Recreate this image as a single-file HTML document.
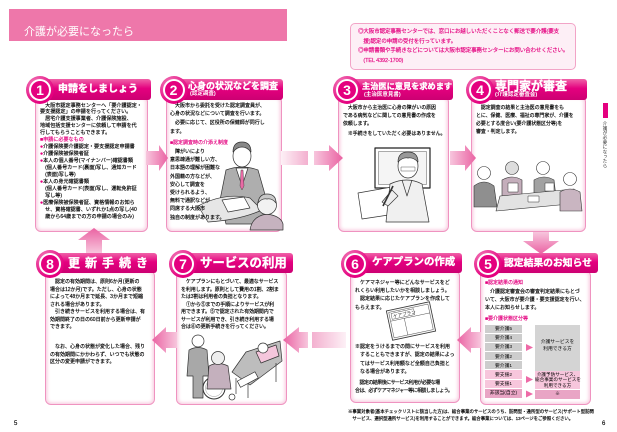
<!DOCTYPE html>
<html><head><meta charset="utf-8">
<style>
*{margin:0;padding:0;box-sizing:border-box}
html,body{width:617px;height:432px;overflow:hidden;background:#fff}
body{position:relative;font-family:"Liberation Sans","Noto Sans CJK JP",sans-serif;color:#231815}
.tb{position:absolute;white-space:nowrap;font-size:5px;line-height:7.5px;color:#000;-webkit-text-stroke:0.15px #000;z-index:4}
.box{position:absolute;background:#fff;border:1.2px solid #ef93c0;border-radius:6px;box-shadow:inset 0 0 3px 1.5px #f9cfe2;z-index:1}
.bar{position:absolute;background:linear-gradient(#f062a8,#e4007f 45%,#cc0072);border-radius:0 3px 3px 0;z-index:2}
.cir{position:absolute;width:28px;height:28px;border-radius:50%;background:radial-gradient(circle at 35% 30%,#f383bb,#e4007f 70%);z-index:2}
.cir::before{content:"";position:absolute;left:3px;top:3px;width:22px;height:22px;border-radius:50%;background:#fff}
.cir span{position:absolute;left:5px;top:5px;width:18px;height:18px;border-radius:50%;background:#e4007f;color:#fff;font-weight:bold;font-size:14px;line-height:18px;text-align:center;font-family:"Liberation Sans",sans-serif}
.ht{position:absolute;color:#fff;font-weight:bold;white-space:nowrap;font-family:"Liberation Sans","Noto Sans CJK JP",sans-serif;-webkit-text-stroke:0.35px #fff;z-index:4}
.pk{color:#e4007f;-webkit-text-stroke-color:#e4007f}
.cell{position:absolute;font-size:4.8px;line-height:8.3px;text-align:center;white-space:nowrap;color:#000;z-index:4}
</style></head><body>

<!-- title bar -->
<div style="position:absolute;left:9px;top:9px;width:278px;height:32px;background:#ee77aa"></div>
<div class="ht" style="left:24px;top:27px;font-size:11px;line-height:11px;font-weight:normal;-webkit-text-stroke:0">介護が必要になったら</div>

<!-- info box -->
<div style="position:absolute;left:350px;top:23px;width:226px;height:47px;border:1px solid #f2a4c7;background:#fdeff6;border-radius:5px"></div>
<div class="tb pk" style="left:358px;top:28.2px;font-size:5.5px;line-height:9.6px;letter-spacing:-0.1px">◎大阪市認定事務センターでは、窓口にお越しいただくことなく郵送で要介護(要支<br>　援)認定の申請の受付を行っています。<br>◎申請書類や手続きなどについては大阪市認定事務センターにお問い合わせください。<br>　(TEL 4392-1700)</div>

<!-- side tab -->
<div style="position:absolute;left:603px;top:103px;width:5px;height:15px;background:#e4007f"></div>
<div style="position:absolute;left:602px;top:121px;writing-mode:vertical-rl;font-size:4.7px;line-height:6px;color:#333;white-space:nowrap">介護が必要になったら</div>

<!-- body boxes row 1 -->
<div class="box" style="left:35px;top:96px;width:113px;height:136px"></div>
<div class="box" style="left:166px;top:96px;width:116px;height:136px"></div>
<div class="box" style="left:338px;top:96px;width:111px;height:136px"></div>
<div class="box" style="left:471px;top:96px;width:115px;height:136px"></div>
<!-- body boxes row 2 -->
<div class="box" style="left:45px;top:270px;width:110px;height:135px"></div>
<div class="box" style="left:176px;top:270px;width:111px;height:135px"></div>
<div class="box" style="left:350px;top:270px;width:110px;height:133px"></div>
<div class="box" style="left:480px;top:270px;width:111px;height:135px"></div>

<!-- header bars row 1 -->
<div class="bar" style="left:40px;top:79px;width:111px;height:21px"></div>
<div class="bar" style="left:173px;top:79px;width:110px;height:21px"></div>
<div class="bar" style="left:347px;top:79px;width:106px;height:21px"></div>
<div class="bar" style="left:480px;top:79px;width:107px;height:21px"></div>
<!-- header bars row 2 -->
<div class="bar" style="left:50px;top:253px;width:107px;height:20px"></div>
<div class="bar" style="left:183px;top:253px;width:110px;height:20px"></div>
<div class="bar" style="left:355px;top:253px;width:107px;height:20px"></div>
<div class="bar" style="left:488px;top:253px;width:110px;height:20px"></div>

<!-- circles -->
<div class="cir" style="left:26px;top:76px"><span>1</span></div>
<div class="cir" style="left:159.5px;top:76px"><span>2</span></div>
<div class="cir" style="left:333px;top:76px"><span>3</span></div>
<div class="cir" style="left:466px;top:76px"><span>4</span></div>
<div class="cir" style="left:36px;top:249.5px"><span>8</span></div>
<div class="cir" style="left:169px;top:249.5px"><span>7</span></div>
<div class="cir" style="left:341px;top:249.5px"><span>6</span></div>
<div class="cir" style="left:474px;top:249.5px"><span>5</span></div>

<!-- header titles -->
<div class="ht" style="left:58px;top:85px;font-size:10px;line-height:10px">申請をしましょう</div>
<div class="ht" style="left:188px;top:81.5px;font-size:9px;line-height:9px">心身の状況などを調査</div>
<div class="ht" style="left:190px;top:92.2px;font-size:5.5px;line-height:5.5px;-webkit-text-stroke:0">(認定調査)</div>
<div class="ht" style="left:362px;top:83px;font-size:8.2px;line-height:8.2px">主治医に意見を求めます</div>
<div class="ht" style="left:364px;top:93.2px;font-size:5.5px;line-height:5.5px;-webkit-text-stroke:0">(主治医意見書)</div>
<div class="ht" style="left:495px;top:80px;font-size:12px;line-height:12px">専門家が審査</div>
<div class="ht" style="left:495px;top:93.2px;font-size:5.5px;line-height:5.5px;-webkit-text-stroke:0">(介護認定審査会)</div>

<div class="ht" style="left:68px;top:257px;font-size:12px;line-height:12px;letter-spacing:5px">更新手続き</div>
<div class="ht" style="left:200px;top:257px;font-size:12.4px;line-height:12.4px">サービスの利用</div>
<div class="ht" style="left:372px;top:258px;font-size:10.4px;line-height:10.4px">ケアプランの作成</div>
<div class="ht" style="left:504px;top:258.5px;font-size:9.8px;line-height:9.8px">認定結果のお知らせ</div>

<!-- SVG: arrows & illustrations -->
<svg width="617" height="432" style="position:absolute;left:0;top:0;z-index:3" xmlns="http://www.w3.org/2000/svg">
<defs>
<linearGradient id="gr" x1="0" x2="1" y1="0" y2="0"><stop offset="0" stop-color="#f7c6dd"/><stop offset="1" stop-color="#ea62a2"/></linearGradient>
<linearGradient id="gl" x1="1" x2="0" y1="0" y2="0"><stop offset="0" stop-color="#f7c6dd"/><stop offset="1" stop-color="#ea62a2"/></linearGradient>
<linearGradient id="gd" x1="0" x2="0" y1="0" y2="1"><stop offset="0" stop-color="#f7c6dd"/><stop offset="1" stop-color="#ea62a2"/></linearGradient>
<linearGradient id="gu" x1="0" x2="0" y1="1" y2="0"><stop offset="0" stop-color="#f7c6dd"/><stop offset="1" stop-color="#ea62a2"/></linearGradient>
<linearGradient id="fr" x1="0" x2="1" y1="0" y2="0"><stop offset="0" stop-color="#fdf0f6"/><stop offset="1" stop-color="#f3b0cf"/></linearGradient>
<linearGradient id="fl" x1="1" x2="0" y1="0" y2="0"><stop offset="0" stop-color="#fdf0f6"/><stop offset="1" stop-color="#f3b0cf"/></linearGradient>
</defs>
<!-- row1 arrows -->
<polygon points="146,151 159,151 159,145 168,158 159,171 159,165 146,165" fill="url(#gr)"/>
<rect x="281" y="151" width="27" height="14" fill="url(#fr)"/>
<polygon points="314,151 329,151 329,145 343,158 329,171 329,165 314,165" fill="url(#gr)"/>
<polygon points="450,151 465,151 465,145 476,158 465,171 465,165 450,165" fill="url(#gr)"/>
<!-- down arrow -->
<polygon points="533,232 549,232 549,241 559,241 541,254 523,241 533,241" fill="url(#gd)"/>
<!-- row2 arrows -->
<polygon points="481,332 471,332 471,327 457,340 471,353 471,348 481,348" fill="url(#gl)"/>
<rect x="312" y="332" width="34" height="16" fill="url(#fl)"/>
<polygon points="308,332 299,332 299,327 283,340 299,353 299,348 308,348" fill="url(#gl)"/>
<polygon points="177,332 166,332 166,327 152,340 166,353 166,348 177,348" fill="url(#gl)"/>
<!-- up arrow -->
<polygon points="86,253 102,253 102,240 110,240 94,228 78,240 86,240" fill="url(#gu)"/>

<!-- box2 illustration -->
<g stroke="#333" stroke-width="0.7" stroke-linejoin="round">
<path d="M226 170 Q242 164 258 170 L266 198 L264 224 L226 224 L220 200 Z" fill="#aeaeae"/>
<path d="M236 168 L242 186 L248 168 Z" fill="#fff"/>
<path d="M241 170 L243 170 L244 186 L242 190 L240 186 Z" fill="#e96aa5" stroke-width="0.4"/>
<ellipse cx="242" cy="156" rx="9" ry="11" fill="#fff"/>
<path d="M233 152 Q233 142 242 142 Q251 142 251 152 Q247 147 242 147 Q237 147 233 152 Z" fill="#888"/>
<path d="M198 206 Q225 192 250 198 L262 210 Q240 220 208 222 Z" fill="#e6e6e6"/>
<path d="M222 200 L244 197 L250 208 L228 212 Z" fill="#fff"/>
<path d="M250 230 Q252 216 267 214 Q281 216 283 224 L283 230 Z" fill="#c6b2bf"/>
<circle cx="267" cy="205" r="9.5" fill="#f2f2f2"/>
<path d="M258 203 Q259 194 267 194 Q276 194 276 203 Q272 198 267 199 Q262 198 258 203Z" fill="#c8c8c8"/>
</g>

<!-- box3 illustration -->
<g stroke="#333" stroke-width="0.7" stroke-linejoin="round">
<rect x="375" y="148" width="55" height="40" fill="#fff" stroke="#222" stroke-width="1.2"/>
<rect x="378.5" y="151.5" width="48" height="33" fill="#f5f5f5" stroke-width="0.4"/>
<path d="M358 193 L392 187 L402 213 L362 219 Z" fill="#fff"/>
<path d="M390 184 Q407 176 422 184 L429 222 L386 222 Z" fill="#f0f0f0"/>
<path d="M402 180 L407 196 L412 180" fill="none"/>
<ellipse cx="408" cy="166" rx="10" ry="12" fill="#fff"/>
<path d="M398 162 Q398 152 408 152 Q418 152 418 162 Q413 157 408 158 Q403 157 398 162Z" fill="#999"/>
<rect x="401" y="167" width="14" height="4" fill="#fff" stroke-width="0.4"/>
<path d="M392 190 L382 202 L388 206 L398 196 Z" fill="#eee"/>
<line x1="383" y1="206" x2="393" y2="186" stroke-width="1.6"/>
</g>

<!-- box4 illustration -->
<g stroke="#333" stroke-width="0.6" stroke-linejoin="round">
<path d="M474 186 Q484 178 494 186 L497 207 L474 207 Z" fill="#8f8f8f"/>
<circle cx="484" cy="173" r="6.5" fill="#fff"/>
<path d="M502 180 Q512 174 522 180 L522 196 L502 196 Z" fill="#c4aebb"/>
<circle cx="512" cy="168" r="6.5" fill="#ddd"/>
<path d="M534 180 Q544 174 554 180 L556 197 L534 197 Z" fill="#a2a2a2"/>
<circle cx="543" cy="168" r="6.5" fill="#fff"/>
<path d="M500 196 L574 189 L580 203 L496 211 Z" fill="#e2e2e2"/>
<path d="M560 192 Q570 186 580 192 L582 211 L560 211 Z" fill="#c9b5c1"/>
<circle cx="570" cy="179" r="6.5" fill="#fff"/>
<rect x="508" y="183" width="10" height="9" fill="#fff" stroke-width="0.5"/>
<rect x="528" y="196" width="11" height="6" fill="#fff" stroke-width="0.5"/>
<rect x="545" y="183" width="9" height="8" fill="#fff" stroke-width="0.5"/>
</g>

<!-- box6 care plan paper -->
<g transform="rotate(-12 411 321)" stroke="#333">
<rect x="389" y="306" width="44" height="30" fill="#f4f4f4" stroke-width="0.8"/>
<rect x="391" y="308" width="40" height="26" fill="#fff" stroke-width="0.4"/>
<rect x="393" y="309.5" width="23" height="6" fill="#fff" stroke-width="0.4"/>
<line x1="391" y1="317" x2="431" y2="317" stroke-width="0.4"/>
<line x1="405" y1="317" x2="405" y2="334" stroke-width="0.4"/>
<text x="394.5" y="314.5" font-size="4.6" stroke="none" fill="#333" font-family="Noto Sans CJK JP, sans-serif">ケアプラン</text>
</g>

<!-- box7 illustration -->
<g stroke="#333" stroke-width="0.7" stroke-linejoin="round">
<path d="M232 372 L246 352 L280 341 L282 361 L250 385 Z" fill="#bdbdbd"/>
<path d="M236 378 L236 394 M248 384 L248 398 M276 363 L276 382" fill="none"/>
<path d="M256 352 L276 345 L279 356 L261 363 Z" fill="#f4c6dc"/>
<circle cx="263" cy="348" r="5" fill="#fff"/>
<rect x="238" y="376" width="20" height="7" fill="#fff" transform="rotate(-28 248 380)"/>
<circle cx="198" cy="341" r="6" fill="#fff"/>
<path d="M189 350 Q198 345 207 350 L209 376 L203 376 L203 398 L193 398 L193 376 L187 376 Z" fill="#a8a8a8"/>
<circle cx="214" cy="388" r="11" fill="none" stroke-width="1"/>
<circle cx="214" cy="388" r="8.5" fill="none" stroke="#999" stroke-width="0.5"/>
<path d="M209 366 Q218 361 228 366 L231 389 L207 389 Z" fill="#c4b0bd"/>
<circle cx="218" cy="358" r="6.5" fill="#eee"/>
<circle cx="232" cy="397" r="3" fill="none"/>
</g>

<!-- table triangles -->
<polygon points="526,344 533,347.5 526,351" fill="#ee6aa7"/>
<polygon points="526,376 533,379.5 526,383" fill="#ee6aa7"/>
<polygon points="526,390.5 533,394 526,397.5" fill="#ee6aa7"/>
</svg>

<!-- box1 text -->
<div class="tb" style="left:40px;top:102.5px;font-size:5.1px;line-height:6.95px">　大阪市認定事務センターへ「要介護認定・<br>要支援認定」の申請を行ってください。<br>　居宅介護支援事業者、介護保険施設、<br>地域包括支援センターに依頼して申請を代<br>行してもらうこともできます。<br><span class="pk">■申請に必要なもの</span><br><span class="pk">●</span>介護保険要介護認定・要支援認定申請書<br><span class="pk">●</span>介護保険被保険者証<br><span class="pk">●</span>本人の個人番号(マイナンバー)確認書類<br>　(個人番号カード(裏面)写し、通知カード<br>　(表面)写し等)<br><span class="pk">●</span>本人の身元確認書類<br>　(個人番号カード(表面)写し、運転免許証<br>　写し等)<br><span class="pk">●</span>医療保険被保険者証、資格情報のお知ら<br>　せ、資格確認書、いずれか1点の写し(40<br>　歳から64歳までの方の申請の場合のみ)</div>

<!-- box2 text -->
<div class="tb" style="left:170px;top:101.8px;line-height:8.6px">　大阪市から委託を受けた認定調査員が、<br>心身の状況などについて調査を行います。<br>　必要に応じて、区役所の保健師が同行し<br>ます。</div>
<div class="tb pk" style="left:170px;top:139px;line-height:8px">■認定調査時の介添え制度</div>
<div class="tb" style="left:170px;top:147.9px;line-height:8.2px">　障がいにより<br>意思疎通が難しい方、<br>日本語の理解が困難な<br>外国籍の方などが、<br>安心して調査を<br>受けられるよう、<br>無料で通訳などが<br>同席する大阪市<br>独自の制度があります。</div>

<!-- box3 text -->
<div class="tb" style="left:343px;top:105px;font-size:4.9px;line-height:8px">　大阪市から主治医に心身の障がいの原因<br>である病気などに関しての意見書の作成を<br>依頼します。</div>
<div class="tb" style="left:343px;top:131px;font-size:4.9px;line-height:8px">　※手続きをしていただく必要はありません。</div>

<!-- box4 text -->
<div class="tb" style="left:476px;top:105px;font-size:4.9px;line-height:8px">　認定調査の結果と主治医の意見書をも<br>とに、保健、医療、福祉の専門家が、介護を<br>必要とする度合い(要介護状態区分等)を<br>審査・判定します。</div>

<!-- box8 text -->
<div class="tb" style="left:50px;top:279.25px">　認定の有効期間は、原則6か月(更新の<br>場合は12か月)です。ただし、心身の状態<br>によって48か月まで延長、3か月まで短縮<br>される場合があります。<br>　引き続きサービスを利用する場合は、有<br>効期間終了の日の60日前から更新申請が<br>できます。</div>
<div class="tb" style="left:50px;top:344.25px">　なお、心身の状態が変化した場合、残り<br>の有効期間にかかわらず、いつでも状態の<br>区分の変更申請ができます。</div>

<!-- box7 text -->
<div class="tb" style="left:181px;top:279.25px;letter-spacing:-0.1px">　ケアプランにもとづいて、最適なサービス<br>を利用します。原則として費用の1割、2割ま<br>たは3割は利用者の負担となります。<br>　①から⑤までの手順によりサービスが利<br>用できます。⑤で認定された有効期間内で<br>サービスが利用でき、引き続き利用する場<br>合は⑧の更新手続きを行ってください。</div>

<!-- box6 text -->
<div class="tb" style="left:355px;top:278.9px;line-height:8.3px">　ケアマネジャー等にどんなサービスをど<br>れくらい利用したいかを相談しましょう。<br>　認定結果に応じたケアプランを作成して<br>もらえます。</div>
<div class="tb" style="left:355px;top:342.7px;line-height:8.5px">※認定をうけるまでの間にサービスを利用<br>　することもできますが、認定の結果によっ<br>　てはサービス利用額など全額自己負担と<br>　なる場合があります。</div>
<div class="tb" style="left:355px;top:379px;line-height:8px;letter-spacing:-0.55px">　認定の結果後にサービス利用が必要な場<br>合は、必ずケアマネジャー等に相談しましょう。</div>

<!-- box5 text -->
<div class="tb pk" style="left:485px;top:279px;line-height:8px">■認定結果の通知</div>
<div class="tb" style="left:485px;top:287.9px;line-height:8.1px">　介護認定審査会の審査判定結果にもとづ<br>いて、大阪市が要介護・要支援認定を行い、<br>本人にお知らせします。</div>
<div class="tb pk" style="left:485px;top:315px;line-height:8px">■要介護状態区分等</div>

<!-- table -->
<div style="position:absolute;left:485px;top:324.5px;width:37px;z-index:2">
<div style="height:9.2px;background:#cdcdcd;border-bottom:0.8px solid #fff"></div>
<div style="height:9.2px;background:#cdcdcd;border-bottom:0.8px solid #fff"></div>
<div style="height:9.2px;background:#cdcdcd;border-bottom:0.8px solid #fff"></div>
<div style="height:9.2px;background:#cdcdcd;border-bottom:0.8px solid #fff"></div>
<div style="height:9.2px;background:#cdcdcd;border-bottom:0.8px solid #fff"></div>
<div style="height:9.2px;background:#f7c6dc;border-bottom:0.8px solid #fff"></div>
<div style="height:9.2px;background:#f7c6dc;border-bottom:0.8px solid #fff"></div>
<div style="height:9.2px;background:#e9a5c5"></div>
</div>
<div class="cell" style="left:485px;top:325px;width:37px;line-height:9.2px">要介護5<br>要介護4<br>要介護3<br>要介護2<br>要介護1<br>要支援2<br>要支援1<br>非該当(自立)</div>
<div style="position:absolute;left:535px;top:324.5px;width:45px;height:46px;background:#d4d4d4;z-index:2"></div>
<div style="position:absolute;left:535px;top:371px;width:45px;height:18px;background:#f7c6dc;z-index:2"></div>
<div style="position:absolute;left:535px;top:389.5px;width:45px;height:9px;background:#e9a5c5;z-index:2"></div>
<div class="cell" style="left:535px;top:339px;width:45px;line-height:7px">介護サービスを<br>利用できる方</div>
<div class="cell" style="left:535px;top:371.5px;width:45px;font-size:4.6px;line-height:5.8px">介護予防サービス、<br>総合事業のサービスを<br>利用できる方</div>
<div class="cell" style="left:535px;top:389.5px;width:45px;line-height:9px">※</div>

<!-- footnote -->
<div class="tb" style="left:348px;top:407.5px;font-size:4.4px;line-height:7px">※事業対象者(基本チェックリストに該当した方)は、総合事業のサービスのうち、訪問型・通所型のサービス(サポート型訪問<br>　サービス、選択型通所サービス)を利用することができます。総合事業については、13ページをご参照ください。</div>

<!-- page numbers -->
<div class="tb" style="left:14px;top:420px;font-size:6px;line-height:8px">5</div>
<div class="tb" style="left:602px;top:420px;font-size:6px;line-height:8px">6</div>

</body></html>
